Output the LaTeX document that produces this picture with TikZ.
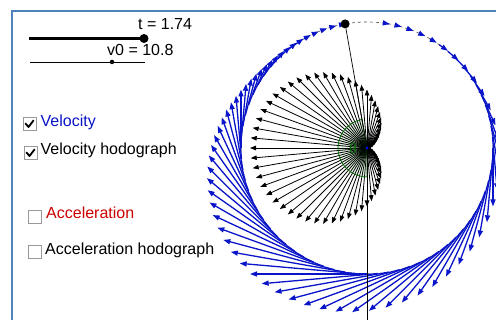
\documentclass[tikz,border=0pt]{standalone}
\usepackage{fontspec}
\setmainfont{Liberation Sans}
\usepackage{xcolor}
\definecolor{velBlue}{HTML}{0A14C8}
\definecolor{accRed}{HTML}{CC0000}
\definecolor{frameBlue}{HTML}{4F81BD}
\definecolor{angGreen}{HTML}{006400}
\usetikzlibrary{arrows.meta, positioning, calc}

\begin{document}
\begin{tikzpicture}[
    x=1pt, y=1pt,
    font=\fontsize{16}{19}\selectfont,
    velarrow/.style={-{Triangle[length=7pt, width=5pt]}, line width=1.3pt, draw=velBlue},
    hodoarrow/.style={-{Triangle[length=6pt, width=4.5pt]}, line width=0.8pt, draw=black},
    chkbox/.style={draw=gray!80, fill=white, rectangle, minimum size=13pt, inner sep=0pt, line width=1pt},
    checkmark/.style={line width=1.8pt, line cap=round, line join=round},
    lbl/.style={anchor=base west, inner sep=0pt},
    dot/.style={circle, fill=black, inner sep=0pt, minimum size=#1}
]
\useasboundingbox (0,0) rectangle (496,320);

\draw[frameBlue, line width=2.5pt] (12,0) -- (12,309) -- (496,309);

% sliders
\coordinate (tStart) at (29,281.5);
\coordinate (tEnd) at (144,281.5);
\draw[line width=2.5pt] (tStart) -- (tEnd);
\node[dot=9pt] (tKnob) at (tEnd) {};
\node[lbl] (tLabel) at (138,290) {t = 1.74};
\coordinate (vStart) at (30,258);
\coordinate (vEnd) at (145,258);
\draw[line width=0.8pt] (vStart) -- (vEnd);
\node[dot=4.5pt] (vKnob) at (112,258) {};
\node[lbl] (vLabel) at (107,264) {v0 = 10.8};

% path and traces
\coordinate (C) at (367,172);
\coordinate (floor) at (367,0);
\coordinate (B) at ($(C)+(100:126)$);
\draw[dash pattern=on 3pt off 3pt, line width=0.6pt, gray!60!black] (C) circle[radius=126];
\foreach \w in {-85,-82.5,...,85}{
    \pgfmathsetmacro{\ph}{-90-2*\w}
    \pgfmathsetmacro{\len}{117*cos(\w)*cos(\w)}
    \draw[velarrow, shift={(C)}] (\ph:126) -- ++(\ph-90:\len);
    \draw[hodoarrow] (C) -- ++(\ph-90:\len);
}

\filldraw[draw=angGreen, fill=angGreen, fill opacity=0.1, line width=0.7pt] (C) -- ++(100:29) arc[start angle=100, end angle=270, radius=29] -- cycle;
\node[text=angGreen, font=\fontsize{14}{16}\selectfont] (thetaLbl) at (353,171) {θ};
\draw[line width=0.7pt] (C) -- (floor);
\node[dot=9pt] (ball) at (B) {};
\draw[line width=0.7pt] (ball) -- (C);
\fill[blue] (C) circle[radius=1.5];

% check boxes
\node[chkbox] (cbVel) at (29.5,196) {};
\node[chkbox] (cbVelHodo) at (30.5,167) {};
\node[chkbox] (cbAcc) at (35,103) {};
\node[chkbox] (cbAccHodo) at (35,68) {};
\draw[checkmark] ($(cbVel.center)+(-4,0.5)$) -- ++(3,-3.5) -- ++(5,6.5);
\draw[checkmark] ($(cbVelHodo.center)+(-4,0.5)$) -- ++(3,-3.5) -- ++(5,6.5);
\node[lbl, text=velBlue] (velLbl) at (40.5,193.5) {Velocity};
\node[lbl] (velHodoLbl) at (40.5,165.5) {Velocity hodograph};
\node[lbl, text=accRed] (accLbl) at (46,101.5) {Acceleration};
\node[lbl] (accHodoLbl) at (45,65.5) {Acceleration hodograph};

\end{tikzpicture}
\end{document}
